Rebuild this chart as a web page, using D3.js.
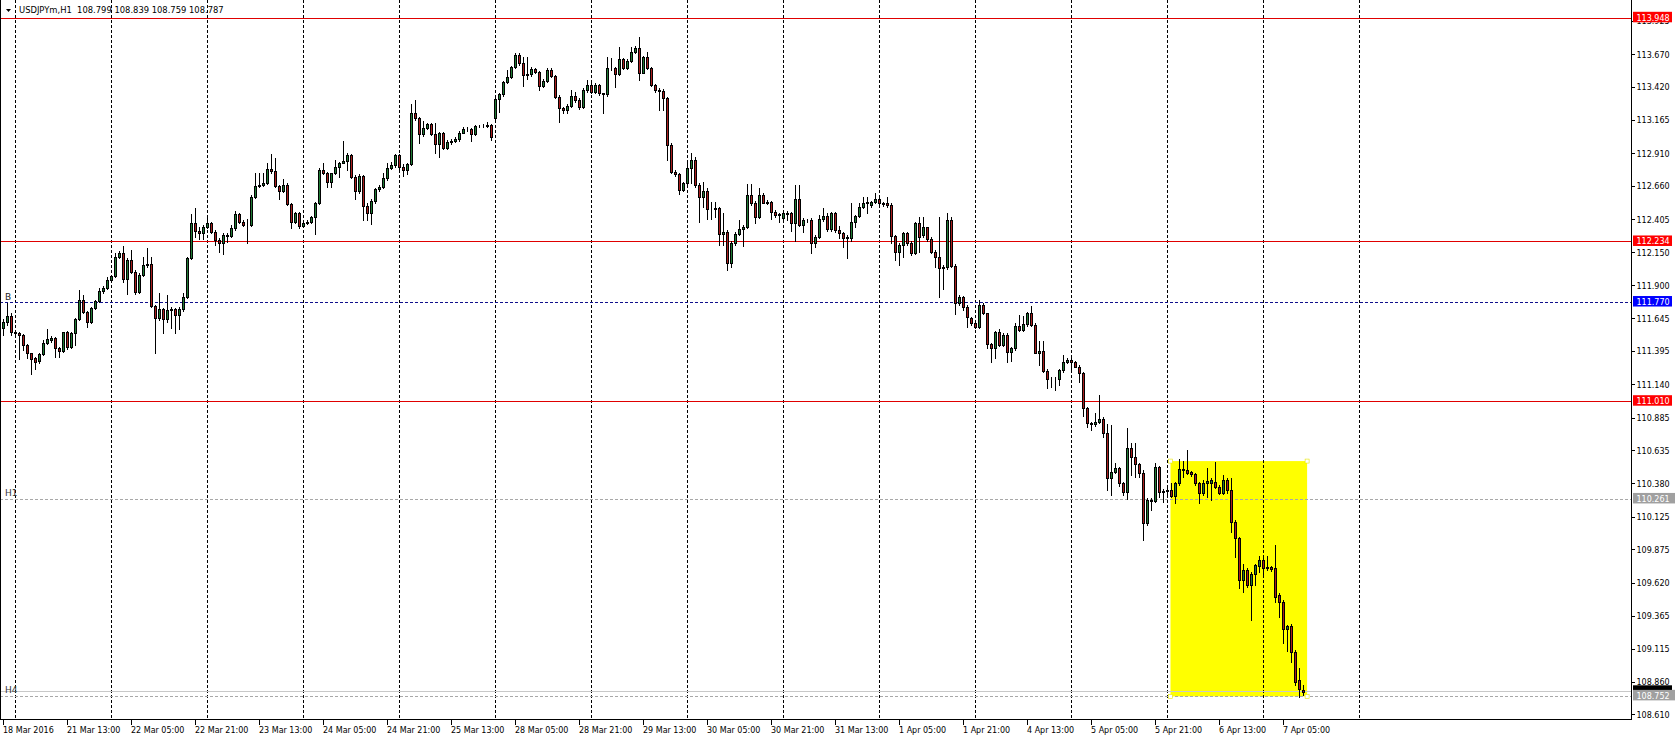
<!DOCTYPE html>
<html><head><meta charset="utf-8">
<script src="https://cdn.jsdelivr.net/npm/d3@7/dist/d3.min.js"></script>
<style>
html,body{margin:0;padding:0;background:#fff;overflow:hidden;}
svg{display:block;}
text{font-family:"DejaVu Sans",Verdana,sans-serif;font-size:8px;}
</style></head><body>
<svg id="chart" width="1675" height="738"></svg>
<script>
const symbolTitle = "USDJPYm,H1";
const firstBarUTC = [2016, 2, 18, 21];   // 18 Mar 2016 21:00, hourly bars
const opens = [
111.572,111.623,111.667,111.547,111.534,111.521,111.445,111.381,111.342,111.324,
111.376,111.462,111.483,111.501,111.419,111.401,111.542,111.427,111.534,111.641,
111.789,111.700,111.623,111.731,111.782,111.858,111.884,111.943,111.973,112.121,
112.147,111.948,112.096,112.006,111.853,111.981,112.058,112.065,111.743,111.649,
111.718,111.641,111.713,111.718,111.675,111.718,111.815,112.109,112.377,112.321,
112.300,112.351,112.377,112.313,112.249,112.223,112.287,112.280,112.338,112.448,
112.387,112.364,112.367,112.581,112.663,112.673,112.683,112.791,112.780,112.663,
112.627,112.671,112.525,112.390,112.453,112.356,112.382,112.390,112.423,112.535,
112.786,112.765,112.696,112.760,112.811,112.842,112.855,112.901,112.735,112.627,
112.742,112.512,112.454,112.548,112.637,112.658,112.722,112.799,112.824,112.901,
112.811,112.786,112.831,113.220,113.181,113.061,113.105,113.135,113.061,112.982,
113.066,112.951,113.003,113.008,113.023,113.072,113.100,113.097,113.059,113.125,
113.120,113.123,113.128,113.181,113.327,113.365,113.462,113.496,113.572,113.667,
113.603,113.514,113.519,113.557,113.539,113.429,113.470,113.552,113.508,113.347,
113.258,113.245,113.276,113.353,113.322,113.266,113.399,113.437,113.386,113.437,
113.373,113.365,113.565,113.570,113.519,113.634,113.565,113.623,113.692,113.718,
113.531,113.649,113.565,113.437,113.399,113.393,113.335,112.977,112.773,112.755,
112.632,112.683,112.798,112.862,112.671,112.581,112.627,112.484,112.489,112.492,
112.293,112.313,112.070,112.229,112.295,112.331,112.351,112.594,112.530,112.423,
112.594,112.535,112.540,112.466,112.441,112.415,112.448,112.458,112.377,112.563,
112.364,112.402,112.400,112.229,112.275,112.407,112.433,112.331,112.458,112.326,
112.300,112.262,112.262,112.390,112.433,112.499,112.530,112.517,112.540,112.561,
112.530,112.533,112.515,112.280,112.160,112.211,112.305,112.224,112.147,112.382,
112.287,112.346,112.254,112.160,112.116,112.032,112.040,112.402,112.052,111.764,
111.810,111.738,111.649,111.616,111.580,111.751,111.687,111.452,111.419,111.542,
111.445,111.521,111.393,111.419,111.590,111.559,111.605,111.687,111.598,111.386,
111.401,111.248,111.181,111.184,111.181,111.253,111.317,111.327,111.312,111.278,
111.227,110.959,110.844,110.839,110.857,110.877,110.773,110.423,110.474,110.505,
110.385,110.321,110.653,110.589,110.533,110.466,110.078,110.257,110.252,110.507,
110.321,110.326,110.334,110.288,110.385,110.492,110.487,110.471,110.454,110.390,
110.308,110.390,110.385,110.397,110.359,110.313,110.410,110.334,110.091,109.968,
109.644,109.721,109.606,109.687,109.751,109.797,109.733,109.741,109.733,109.529,
109.478,109.266,109.291,109.095,108.878,108.799];
const highs = [
111.641,111.764,111.687,111.554,111.547,111.529,111.452,111.386,111.355,111.386,
111.483,111.565,111.513,111.508,111.432,111.547,111.552,111.547,111.649,111.866,
111.828,111.708,111.738,111.789,111.884,111.897,111.968,111.984,112.152,112.167,
112.203,112.109,112.172,112.019,111.994,112.116,112.185,112.121,111.751,111.840,
111.728,111.828,111.738,111.728,111.738,111.840,112.121,112.448,112.492,112.346,
112.364,112.441,112.389,112.326,112.262,112.300,112.305,112.364,112.471,112.458,
112.402,112.407,112.594,112.760,112.760,112.765,112.842,112.908,112.875,112.671,
112.714,112.683,112.535,112.466,112.466,112.390,112.402,112.433,112.543,112.798,
112.837,112.773,112.765,112.862,112.849,113.010,112.913,112.908,112.747,112.755,
112.747,112.530,112.561,112.645,112.670,112.760,112.837,112.849,112.908,112.908,
112.831,112.842,113.291,113.322,113.189,113.161,113.148,113.143,113.143,113.079,
113.079,113.015,113.020,113.036,113.082,113.112,113.117,113.107,113.133,113.133,
113.135,113.156,113.138,113.335,113.373,113.470,113.552,113.582,113.679,113.679,
113.649,113.654,113.572,113.565,113.547,113.480,113.565,113.565,113.514,113.360,
113.271,113.291,113.399,113.386,113.335,113.411,113.475,113.475,113.450,113.445,
113.378,113.654,113.641,113.577,113.731,113.641,113.634,113.731,113.736,113.802,
113.659,113.692,113.577,113.445,113.411,113.404,113.347,112.990,112.786,112.765,
112.696,112.837,112.913,112.888,112.683,112.696,112.645,112.538,112.538,112.505,
112.453,112.326,112.244,112.313,112.402,112.364,112.678,112.678,112.550,112.645,
112.607,112.556,112.550,112.479,112.458,112.466,112.474,112.466,112.671,112.671,
112.415,112.407,112.415,112.287,112.441,112.492,112.453,112.466,112.466,112.356,
112.313,112.287,112.530,112.441,112.535,112.576,112.576,112.550,112.607,112.594,
112.543,112.576,112.530,112.287,112.224,112.313,112.313,112.244,112.390,112.428,
112.428,112.351,112.275,112.172,112.428,112.058,112.459,112.428,112.065,111.828,
111.820,111.751,111.662,111.623,111.789,111.764,111.692,111.462,111.554,111.565,
111.534,111.534,111.432,111.616,111.674,111.667,111.700,111.743,111.611,111.478,
111.478,111.258,111.197,111.197,111.258,111.368,111.347,111.368,111.324,111.291,
111.240,110.972,110.857,110.921,111.061,110.890,110.837,110.831,110.543,110.512,
110.397,110.806,110.691,110.691,110.543,110.487,110.270,110.270,110.543,110.517,
110.339,110.346,110.385,110.397,110.571,110.558,110.640,110.482,110.461,110.397,
110.410,110.500,110.428,110.545,110.372,110.448,110.423,110.423,110.104,109.976,
109.766,109.733,109.708,109.764,109.830,109.810,109.828,109.751,109.912,109.542,
109.491,109.299,109.307,109.107,108.967,108.839];
const lows = [
111.521,111.598,111.521,111.508,111.335,111.406,111.342,111.220,111.258,111.309,
111.368,111.452,111.467,111.350,111.350,111.393,111.411,111.419,111.445,111.636,
111.687,111.580,111.616,111.718,111.774,111.846,111.874,111.938,111.963,112.109,
111.930,111.835,111.994,111.833,111.840,111.973,112.045,111.738,111.381,111.636,
111.534,111.623,111.572,111.539,111.565,111.708,111.802,112.101,112.275,112.254,
112.259,112.338,112.300,112.208,112.157,112.139,112.236,112.270,112.326,112.377,
112.356,112.223,112.356,112.568,112.658,112.665,112.676,112.765,112.658,112.561,
112.620,112.515,112.338,112.382,112.344,112.351,112.372,112.377,112.293,112.525,
112.755,112.658,112.658,112.755,112.735,112.837,112.786,112.722,112.561,112.607,
112.402,112.402,112.372,112.535,112.627,112.648,112.709,112.791,112.811,112.773,
112.742,112.752,112.824,113.169,112.990,113.046,113.097,113.054,112.913,112.883,
112.944,112.944,112.982,112.997,113.010,113.066,113.087,113.010,113.054,113.112,
113.112,113.112,113.015,113.174,113.227,113.355,113.450,113.488,113.565,113.590,
113.429,113.480,113.506,113.526,113.399,113.419,113.462,113.501,113.335,113.151,
113.225,113.225,113.271,113.309,113.256,113.258,113.386,113.373,113.373,113.360,
113.220,113.355,113.552,113.424,113.511,113.557,113.557,113.613,113.679,113.475,
113.526,113.557,113.429,113.386,113.245,113.245,112.862,112.760,112.740,112.602,
112.627,112.671,112.683,112.658,112.390,112.505,112.407,112.407,112.428,112.211,
112.211,112.019,112.045,112.211,112.285,112.203,112.338,112.517,112.382,112.415,
112.530,112.523,112.407,112.428,112.390,112.407,112.402,112.321,112.241,112.356,
112.313,112.390,112.152,112.193,112.262,112.397,112.321,112.318,112.313,112.262,
112.198,112.109,112.244,112.346,112.423,112.492,112.459,112.505,112.530,112.505,
112.510,112.505,112.224,112.096,112.058,112.116,112.211,112.134,112.142,112.160,
112.275,112.244,112.147,112.045,111.815,111.871,112.024,112.045,111.682,111.751,
111.713,111.585,111.598,111.572,111.572,111.682,111.419,111.317,111.342,111.437,
111.437,111.317,111.324,111.406,111.554,111.554,111.590,111.590,111.381,111.291,
111.240,111.112,111.120,111.100,111.138,111.240,111.309,111.253,111.273,111.164,
110.900,110.819,110.793,110.824,110.844,110.742,110.333,110.295,110.461,110.364,
110.295,110.262,110.448,110.430,110.436,109.950,110.065,110.180,110.244,110.282,
110.244,110.303,110.277,110.231,110.372,110.436,110.456,110.441,110.372,110.237,
110.295,110.277,110.257,110.346,110.303,110.303,110.308,110.014,109.823,109.580,
109.555,109.593,109.337,109.606,109.708,109.690,109.721,109.716,109.478,109.358,
109.159,109.102,109.018,108.839,108.750,108.759];
const closes = [
111.623,111.667,111.547,111.534,111.521,111.445,111.381,111.335,111.317,111.376,
111.462,111.488,111.501,111.419,111.401,111.542,111.427,111.534,111.641,111.789,
111.700,111.623,111.731,111.782,111.858,111.884,111.943,111.973,112.121,112.147,
111.948,112.096,112.006,111.853,111.981,112.058,112.065,111.743,111.649,111.718,
111.641,111.713,111.718,111.675,111.718,111.815,112.109,112.377,112.321,112.300,
112.351,112.377,112.313,112.249,112.223,112.287,112.280,112.338,112.448,112.387,
112.364,112.367,112.581,112.663,112.673,112.683,112.791,112.780,112.663,112.627,
112.671,112.525,112.390,112.453,112.356,112.382,112.390,112.423,112.535,112.786,
112.765,112.696,112.760,112.811,112.842,112.855,112.901,112.735,112.627,112.742,
112.512,112.454,112.548,112.637,112.658,112.722,112.799,112.824,112.901,112.811,
112.786,112.831,113.220,113.181,113.061,113.105,113.135,113.061,112.982,113.066,
112.951,113.003,113.008,113.023,113.072,113.100,113.097,113.059,113.125,113.120,
113.123,113.128,113.041,113.327,113.365,113.462,113.496,113.572,113.667,113.603,
113.514,113.519,113.557,113.539,113.429,113.470,113.552,113.508,113.347,113.258,
113.245,113.276,113.353,113.322,113.266,113.399,113.437,113.386,113.437,113.373,
113.365,113.565,113.570,113.519,113.634,113.565,113.623,113.692,113.718,113.531,
113.649,113.565,113.437,113.399,113.393,113.335,112.977,112.773,112.755,112.632,
112.683,112.798,112.862,112.671,112.581,112.627,112.484,112.489,112.492,112.293,
112.313,112.070,112.229,112.295,112.331,112.351,112.594,112.530,112.423,112.594,
112.535,112.540,112.466,112.441,112.446,112.453,112.458,112.377,112.563,112.364,
112.402,112.400,112.229,112.275,112.407,112.433,112.331,112.458,112.326,112.300,
112.262,112.275,112.390,112.433,112.499,112.535,112.538,112.540,112.561,112.530,
112.528,112.515,112.280,112.160,112.211,112.305,112.224,112.147,112.382,112.275,
112.351,112.254,112.160,112.116,112.032,112.040,112.402,112.052,111.764,111.810,
111.738,111.662,111.611,111.580,111.751,111.687,111.452,111.419,111.542,111.445,
111.521,111.393,111.419,111.590,111.559,111.605,111.687,111.598,111.386,111.401,
111.248,111.181,111.184,111.181,111.253,111.317,111.327,111.312,111.278,111.227,
110.959,110.844,110.839,110.857,110.877,110.773,110.423,110.474,110.505,110.385,
110.321,110.653,110.589,110.533,110.466,110.078,110.257,110.252,110.507,110.321,
110.326,110.334,110.288,110.385,110.492,110.487,110.461,110.454,110.385,110.308,
110.390,110.405,110.410,110.359,110.313,110.410,110.334,110.091,109.968,109.644,
109.721,109.606,109.690,109.759,109.797,109.733,109.746,109.726,109.516,109.478,
109.266,109.291,109.095,108.865,108.806,108.787];

const priceTicks = [113.925,113.670,113.420,113.165,112.910,112.660,112.405,112.150,111.900,111.645,111.395,
  111.140,110.885,110.635,110.380,110.125,109.875,109.620,109.365,109.115,108.860,108.610];
const timeLabels = ["18 Mar 2016","21 Mar 13:00","22 Mar 05:00","22 Mar 21:00","23 Mar 13:00","24 Mar 05:00",
  "24 Mar 21:00","25 Mar 13:00","28 Mar 05:00","28 Mar 21:00","29 Mar 13:00","30 Mar 05:00","30 Mar 21:00",
  "31 Mar 13:00","1 Apr 05:00","1 Apr 21:00","4 Apr 13:00","5 Apr 05:00","5 Apr 21:00","6 Apr 13:00","7 Apr 05:00"];
const labelEveryBars = 16;
const redLevels = [113.948, 112.234, 111.010];
const buyLevel = 111.770, buyLabel = "B";
const hLevels = [110.261, 108.752];
const hLabels = ["H1", "H4"];
const bidPrice = 108.787;
const boxBars = [291.75, 325.9];
const boxPrices = [110.555, 108.752];
const futureBars = 16;
const priceView = [108.5748, 114.0882];

const svg = d3.select("#chart");
const N = closes.length;
const plotR = 1631.5, plotB = 719.5;
const x = d3.scaleLinear().domain([0, 1]).range([3.5, 7.5]);
const y = d3.scaleLinear().domain(priceView).range([plotB, 0]);
const fmt = d3.format(".3f");
const crisp = v => Math.round(v - 0.5) + 0.5;

// calendar of hourly bars (weekends skipped)
const times = [];
let t = Date.UTC(...firstBarUTC);
while (times.length < N + futureBars) {
  const d = new Date(t), wd = d.getUTCDay();
  if (wd !== 0 && wd !== 6) times.push(d);
  t += 3600000;
}
const dayStarts = times.map((d, i) => ({d, i})).filter(o => o.i > 0 && o.d.getUTCHours() === 0).map(o => o.i);

svg.append("rect").attr("width", 1675).attr("height", 738).attr("fill", "#fff");

// yellow rectangle (background object)
svg.append("rect")
  .attr("x", x(boxBars[0])).attr("y", y(boxPrices[0]))
  .attr("width", x(boxBars[1]) - x(boxBars[0]))
  .attr("height", y(boxPrices[1]) - y(boxPrices[0]))
  .attr("fill", "#ffff00");

// day grid
svg.append("g").selectAll("line").data(dayStarts).join("line")
  .attr("x1", d => x(d)).attr("x2", d => x(d))
  .attr("y1", 0).attr("y2", plotB)
  .attr("stroke", "#000").attr("stroke-dasharray", "3,2")
  .attr("shape-rendering", "crispEdges");

// horizontal levels
const lv = svg.append("g").attr("shape-rendering", "crispEdges");
lv.selectAll("line.red").data(redLevels).join("line").attr("class", "red")
  .attr("x1", 0).attr("x2", plotR).attr("y1", d => crisp(y(d))).attr("y2", d => crisp(y(d)))
  .attr("stroke", "#e00000");
lv.append("line").attr("x1", 0).attr("x2", plotR)
  .attr("y1", crisp(y(buyLevel))).attr("y2", crisp(y(buyLevel)))
  .attr("stroke", "#10108c").attr("stroke-dasharray", "3,2");
lv.selectAll("line.h").data(hLevels).join("line").attr("class", "h")
  .attr("x1", 0).attr("x2", plotR).attr("y1", d => crisp(y(d))).attr("y2", d => crisp(y(d)))
  .attr("stroke", "#a8a8a8").attr("stroke-dasharray", "3,2");
lv.append("line").attr("x1", 0).attr("x2", plotR)
  .attr("y1", crisp(y(bidPrice))).attr("y2", crisp(y(bidPrice)))
  .attr("stroke", "#c8c8c8");

svg.append("text").attr("x", 5).attr("y", y(buyLevel) - 3).attr("fill", "#222")
  .style("font-size", "9px").text(buyLabel);
svg.append("g").selectAll("text").data(hLevels).join("text")
  .attr("x", 5).attr("y", d => y(d) - 3).attr("fill", "#333").style("font-size", "9px")
  .text((d, i) => hLabels[i]);

// yellow box handles
const corners = [[boxBars[0], boxPrices[0]], [boxBars[1], boxPrices[0]], [boxBars[0], boxPrices[1]], [boxBars[1], boxPrices[1]]];
svg.append("g").selectAll("rect").data(corners).join("rect")
  .attr("x", d => x(d[0]) - 2).attr("y", d => y(d[1]) - 2).attr("width", 4).attr("height", 4)
  .attr("fill", "#fff").attr("stroke", "#e6e600").attr("stroke-width", 0.6);

// candles
const bars = d3.range(N).map(i => ({i, o: opens[i], h: highs[i], l: lows[i], c: closes[i]}));
const cg = svg.append("g").attr("shape-rendering", "crispEdges");
cg.selectAll("line").data(bars).join("line")
  .attr("x1", d => x(d.i)).attr("x2", d => x(d.i))
  .attr("y1", d => Math.round(y(d.h))).attr("y2", d => Math.round(y(d.l)) + 1)
  .attr("stroke", "#000");
cg.selectAll("rect").data(bars).join("rect")
  .attr("x", d => x(d.i) - 1)
  .attr("y", d => Math.round(y(Math.max(d.o, d.c))) + 0.5)
  .attr("width", 2)
  .attr("height", d => Math.max(0, Math.round(y(Math.min(d.o, d.c))) - Math.round(y(Math.max(d.o, d.c)))))
  .attr("fill", d => d.c >= d.o ? "#1f7a34" : "#a81d1d")
  .attr("stroke", "#000");

// frame
svg.append("path").attr("d", `M0.5,0V${plotB}H${plotR}V0`).attr("fill", "none").attr("stroke", "#000")
  .attr("shape-rendering", "crispEdges");

// price axis
const pa = svg.append("g");
pa.selectAll("line").data(priceTicks).join("line")
  .attr("x1", plotR).attr("x2", plotR + 3.5).attr("y1", d => crisp(y(d))).attr("y2", d => crisp(y(d)))
  .attr("stroke", "#000").attr("shape-rendering", "crispEdges");
pa.selectAll("text").data(priceTicks).join("text")
  .attr("x", 1636.5).attr("y", d => y(d) + 3).attr("fill", "#000").text(fmt);

// time axis
const ta = svg.append("g");
ta.selectAll("line").data(timeLabels).join("line")
  .attr("x1", (d, k) => x(k * labelEveryBars)).attr("x2", (d, k) => x(k * labelEveryBars))
  .attr("y1", plotB).attr("y2", plotB + 5).attr("stroke", "#000").attr("shape-rendering", "crispEdges");
ta.selectAll("text").data(timeLabels).join("text")
  .attr("x", (d, k) => x(k * labelEveryBars) - 0.5).attr("y", 733).attr("fill", "#000").text(d => d);

// price boxes on the axis
function priceBox(p, fill, w, withText) {
  const py = y(p);
  svg.append("rect").attr("x", 1633).attr("y", py - 6.5).attr("width", w).attr("height", 10.5).attr("fill", fill);
  if (withText) svg.append("text").attr("x", 1636.5).attr("y", py + 2.5).attr("fill", "#fff").text(fmt(p));
}
priceBox(bidPrice, "#000", 39, false);   // bid marker, hidden under the H4 box as in the reference
redLevels.forEach(p => priceBox(p, "#ff0000", 39, true));
priceBox(buyLevel, "#0000ff", 39, true);
hLevels.forEach(p => priceBox(p, "#a0a0a0", 42, true));

// title
const last = N - 1;
svg.append("path").attr("d", "M6,9H11L8.5,12Z").attr("fill", "#000");
svg.append("text").attr("x", 19).attr("y", 13).attr("fill", "#000").style("white-space", "pre")
  .style("font-size", "8.4px")
  .text(`${symbolTitle}  ${fmt(opens[last])} ${fmt(highs[last])} ${fmt(lows[last])} ${fmt(closes[last])}`);
</script>
</body></html>
